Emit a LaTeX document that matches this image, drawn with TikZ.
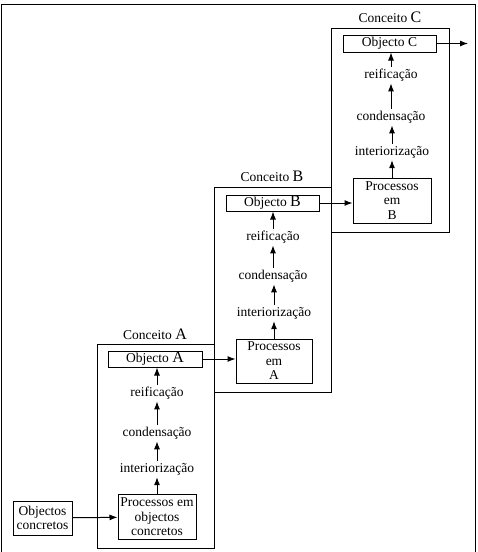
\documentclass[tikz,border=0pt]{standalone}
\usepackage{fontspec}
\setmainfont{Liberation Serif}
\usetikzlibrary{arrows.meta}
\newcommand{\BigL}[1]{{\fontsize{16}{16}\selectfont #1}}
\begin{document}
\begin{tikzpicture}[x=1pt,y=-1pt,
  every node/.style={font=\fontsize{13.5}{14.5}\selectfont},
  lbl/.style={inner sep=2pt},
  bx/.style={draw, line width=1pt, align=center, inner sep=0pt},
  frame/.style={draw, line width=1pt},
  arr/.style={-{Latex[length=8pt,width=6pt]}, line width=1pt}]
\useasboundingbox (0,0) rectangle (477,552);
% outer frame
\draw[frame] (1.5,552) -- (1.5,4) -- (475,4) -- (475,552);
% concept boxes
\draw[frame] (97,344) rectangle (214,548);
\draw[frame] (214,187) rectangle (331,392);
\draw[frame] (331,28) rectangle (449,232);
% labels
\node[lbl] (cA) at (155,334) {Conceito \BigL{A}};
\node[lbl] (cB) at (272,176) {Conceito \BigL{B}};
\node[lbl] (cC) at (390,17) {Conceito \BigL{C}};
% A
\node[bx, minimum width=59pt, minimum height=34pt] (oc) at (42.5,518) {Objectos\\concretos};
\node[bx, minimum width=78pt, minimum height=45pt] (p0) at (157,517) {Processos em\\objectos\\concretos};
\node[lbl] (iA) at (157,469) {interiorização};
\node[lbl] (dA) at (157,433) {condensação};
\node[lbl] (rA) at (157,393) {reificação};
\node[bx, minimum width=94pt, minimum height=16pt] (oA) at (155,359) {Objecto \BigL{A}};
% B
\node[bx, minimum width=76pt, minimum height=44pt] (pA) at (274,361) {Processos\\em\\A};
\node[lbl] (iB) at (274,313) {interiorização};
\node[lbl] (dB) at (273,276) {condensação};
\node[lbl] (rB) at (273,237) {reificação};
\node[bx, minimum width=93pt, minimum height=16pt] (oB) at (272.5,203) {Objecto \BigL{B}};
% C
\node[bx, minimum width=78pt, minimum height=45pt] (pB) at (392,200.5) {Processos\\em\\B};
\node[lbl] (iC) at (392,152) {interiorização};
\node[lbl] (dC) at (391,117) {condensação};
\node[lbl] (rC) at (391,75) {reificação};
\node[bx, minimum width=93pt, minimum height=17pt] (oC) at (389.5,43.5) {Objecto C};
\coordinate (out) at (468,43.5);
% arrows
\draw[arr] (oc) -- (p0);
\draw[arr] (p0.north) -- (p0.north |- iA.south);
\draw[arr] (iA.north) -- (iA.north |- dA.south);
\draw[arr] (dA.north) -- (dA.north |- rA.south);
\draw[arr] (rA.north) -- (rA.north |- oA.south);
\draw[arr] (oA.east) -- (oA.east -| pA.west);
\draw[arr] (pA.north) -- (pA.north |- iB.south);
\draw[arr] (iB.north) -- (iB.north |- dB.south);
\draw[arr] (dB.north) -- (dB.north |- rB.south);
\draw[arr] (rB.north) -- (rB.north |- oB.south);
\draw[arr] (oB.east) -- (oB.east -| pB.west);
\draw[arr] (pB.north) -- (pB.north |- iC.south);
\draw[arr] (iC.north) -- (iC.north |- dC.south);
\draw[arr] (dC.north) -- (dC.north |- rC.south);
\draw[arr] (rC.north) -- (rC.north |- oC.south);
\draw[arr] (oC.east) -- (out);
\end{tikzpicture}
\end{document}
